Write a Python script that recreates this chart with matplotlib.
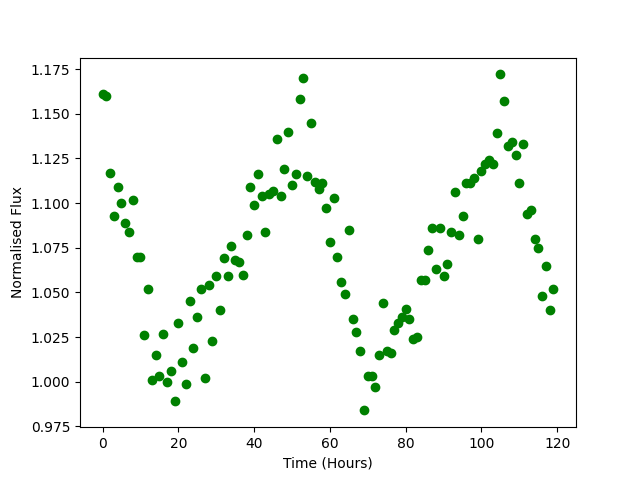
import matplotlib
matplotlib.use("Agg")
import matplotlib.pyplot as plt
import numpy as np

hours = list(range(120))
flux = [1.161, 1.160, 1.117, 1.093, 1.109, 1.100, 1.089, 1.084, 1.102, 1.070,
        1.070, 1.026, 1.052, 1.001, 1.015, 1.003, 1.027, 1.000, 1.006, 0.989,
        1.033, 1.011, 0.999, 1.045, 1.019, 1.036, 1.052, 1.002, 1.054, 1.023,
        1.059, 1.040, 1.069, 1.059, 1.076, 1.068, 1.067, 1.060, 1.082, 1.109,
        1.099, 1.116, 1.104, 1.084, 1.105, 1.107, 1.136, 1.104, 1.119, 1.140,
        1.110, 1.116, 1.158, 1.170, 1.115, 1.145, 1.112, 1.108, 1.111, 1.097,
        1.078, 1.103, 1.070, 1.056, 1.049, 1.085, 1.035, 1.028, 1.017, 0.984,
        1.003, 1.003, 0.997, 1.015, 1.044, 1.017, 1.016, 1.029, 1.033, 1.036,
        1.041, 1.035, 1.024, 1.025, 1.057, 1.057, 1.074, 1.086, 1.063, 1.086,
        1.059, 1.066, 1.084, 1.106, 1.082, 1.093, 1.111, 1.111, 1.114, 1.080,
        1.118, 1.122, 1.124, 1.122, 1.139, 1.172, 1.157, 1.132, 1.134, 1.127,
        1.111, 1.133, 1.094, 1.096, 1.080, 1.075, 1.048, 1.065, 1.040, 1.052]

fig, ax = plt.subplots(figsize=(6.4, 4.8), dpi=100)
ax.plot(hours, flux, 'o', color='green')
ax.set_xlabel('Time (Hours)')
ax.set_ylabel('Normalised Flux')
fig.savefig('out.png')
